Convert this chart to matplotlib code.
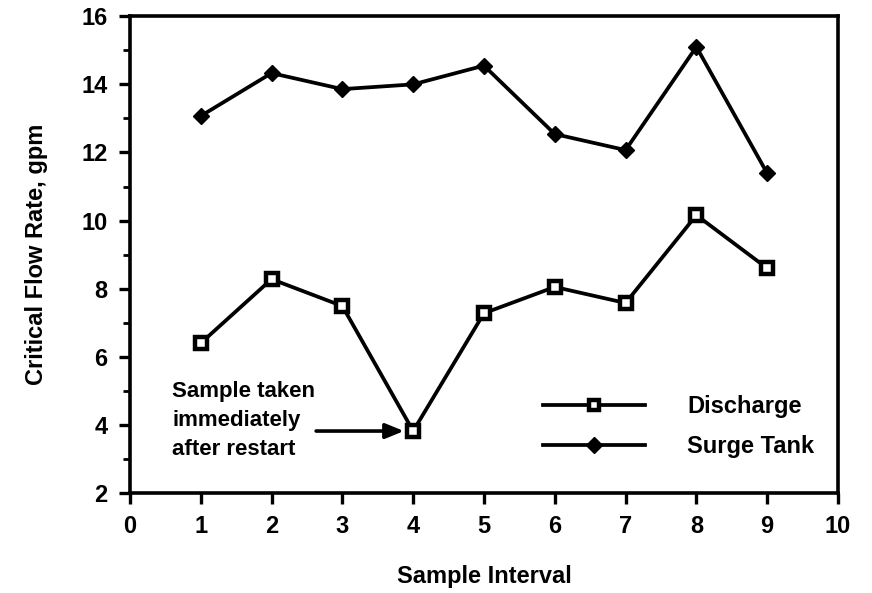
import matplotlib
matplotlib.use("Agg")
import matplotlib.pyplot as plt
from matplotlib.ticker import MultipleLocator

# sample data
sample_interval = [1, 2, 3, 4, 5, 6, 7, 8, 9]
discharge = [6.4, 8.28, 7.49, 3.82, 7.28, 8.05, 7.58, 10.16, 8.6]
surge_tank = [13.07, 14.33, 13.86, 14.0, 14.55, 12.54, 12.07, 15.1, 11.39]

plt.rcParams["font.family"] = ["Liberation Sans", "DejaVu Sans"]

fig = plt.figure(figsize=(8.72, 5.93), dpi=100)
ax = fig.add_axes([0.149, 0.1686, 0.812, 0.804])

ax.plot(sample_interval, discharge, color="black", lw=2.7,
        marker="s", ms=8.5, mfc="white", mec="black", mew=3.2, label="Discharge")
ax.plot(sample_interval, surge_tank, color="black", lw=2.7,
        marker="D", ms=8.5, mfc="black", mec="black", label="Surge Tank")

ax.set_xlim(0, 10)
ax.set_ylim(2, 16)
ax.xaxis.set_major_locator(MultipleLocator(1))
ax.yaxis.set_major_locator(MultipleLocator(2))
ax.yaxis.set_minor_locator(MultipleLocator(1))

for s in ax.spines.values():
    s.set_linewidth(2.6)
ax.tick_params(axis="both", which="major", direction="out", length=8, width=2.4,
               labelsize=17, pad=8)
ax.tick_params(axis="y", which="minor", direction="out", length=5, width=2)
for lab in ax.get_xticklabels() + ax.get_yticklabels():
    lab.set_fontweight("bold")

ax.set_xlabel("Sample Interval", fontsize=17, fontweight="bold", labelpad=19)
ax.set_ylabel("Critical Flow Rate, gpm", fontsize=17, fontweight="bold", labelpad=24)

# note about the low discharge point
ax.text(0.6, 5.28, "Sample taken\nimmediately\nafter restart",
        fontsize=16, fontweight="bold", ha="left", va="top", linespacing=1.5)
ax.annotate("", xy=(3.87, discharge[3]), xytext=(2.63, discharge[3]),
            arrowprops=dict(arrowstyle="-|>,head_length=1.1,head_width=0.45",
                            color="black", lw=2.6, shrinkA=0, shrinkB=0))

leg = ax.legend(loc="lower right", bbox_to_anchor=(0.997, 0.028), frameon=False,
                prop=dict(size=17, weight="bold"), handlelength=4.3,
                handletextpad=1.8, labelspacing=0.72, markerscale=0.9)

fig.savefig("out.png", dpi=100)
